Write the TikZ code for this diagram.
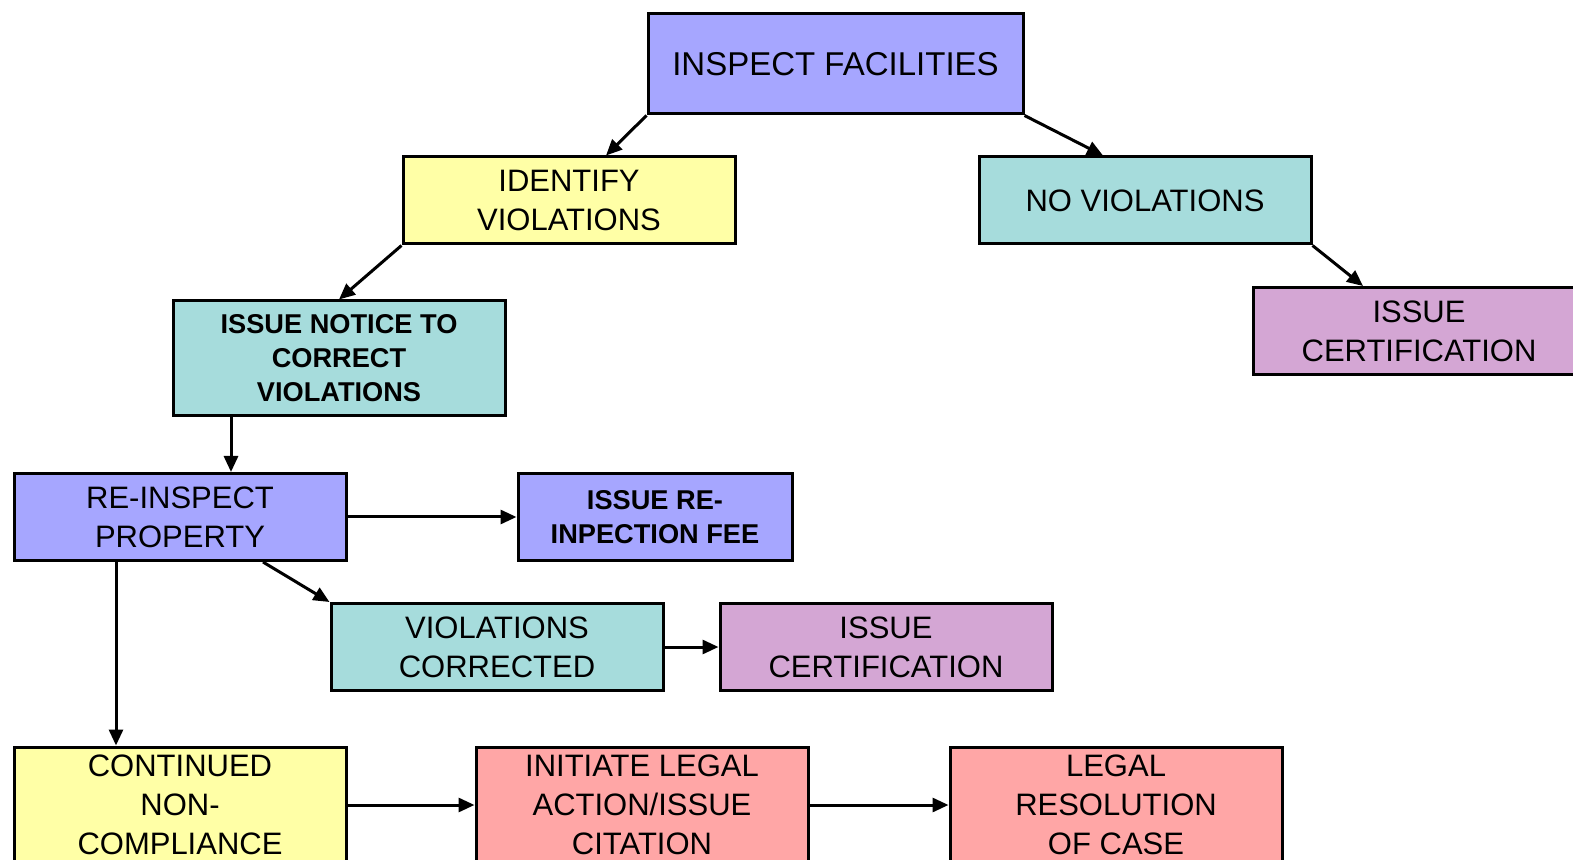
\documentclass[tikz,border=0pt]{standalone}
\usepackage{fontspec}
\setmainfont{Liberation Sans}
\usetikzlibrary{arrows.meta}

\definecolor{lav}{HTML}{A6A6FF}
\definecolor{lemon}{HTML}{FFFFA6}
\definecolor{aqua}{HTML}{A6DCDC}
\definecolor{mauve}{HTML}{D4A6D4}
\definecolor{salmon}{HTML}{FFA6A6}

\tikzset{
  stage/.style={draw, line width=1.5pt, inner sep=0pt, align=center,
    minimum width=166pt, minimum height=43.5pt,
    font=\fontsize{15.5}{19.5}\selectfont},
  tight/.style={font=\bfseries\fontsize{13.6}{17}\selectfont},
  flow/.style={-{Triangle[length=8pt,width=7pt]}, line width=1.5pt},
}

\begin{document}
\begin{tikzpicture}[x=0.5pt,y=-0.5pt]
  \useasboundingbox (0,0) rectangle (1573,860);
  \clip (0,0) rectangle (1573,860);

  % first inspection
  \node[stage, fill=lav, minimum width=187.5pt, minimum height=50pt,
        font=\fontsize{16.5}{20}\selectfont] (insp) at (835.5,64) {INSPECT FACILITIES};
  \node[stage, fill=lemon] (ident) at (569,200.5) {IDENTIFY\\VIOLATIONS};
  \node[stage, fill=aqua] (noviol) at (1145,200.5) {NO VIOLATIONS};
  \node[stage, fill=mauve] (cert1) at (1419,331) {ISSUE\\CERTIFICATION};
  \node[stage, tight, fill=aqua, minimum height=57.5pt] (notice) at (339,358.5)
        {ISSUE NOTICE TO\\CORRECT\\VIOLATIONS};

  % re-inspection
  \node[stage, fill=lav] (reinsp) at (180,517) {RE-INSPECT\\PROPERTY};
  \node[stage, tight, fill=lav, minimum width=137pt] (fee) at (655,517)
        {ISSUE RE-\\INPECTION FEE};
  \node[stage, fill=aqua] (corr) at (497,647) {VIOLATIONS\\CORRECTED};
  \node[stage, fill=mauve] (cert2) at (886,647) {ISSUE\\CERTIFICATION};

  % legal track
  \node[stage, fill=lemon, minimum height=58pt] (cont) at (180,805)
        {CONTINUED\\NON-\\COMPLIANCE};
  \node[stage, fill=salmon, minimum height=58pt] (legal) at (642,805)
        {INITIATE LEGAL\\ACTION/ISSUE\\CITATION};
  \node[stage, fill=salmon, minimum height=58pt] (resol) at (1116,805)
        {LEGAL\\RESOLUTION\\OF CASE};

  \draw[flow] (insp.south west) -- ([xshift=18.5pt]ident.north);
  \draw[flow] (insp.south east) -- ([xshift=-21pt]noviol.north);
  \draw[flow] (ident.south west) -- (notice.north);
  \draw[flow] (noviol.south east) -- ([xshift=-28pt]cert1.north);
  \draw[flow] ([xshift=-54pt]notice.south) -- ([xshift=-54pt]notice.south |- reinsp.north);
  \draw[flow] (reinsp.east) -- (fee.west);
  \draw[flow] ([xshift=41.5pt]reinsp.south) -- (corr.north west);
  \draw[flow] ([xshift=-32pt]reinsp.south) -- ([xshift=-32pt]cont.north);
  \draw[flow] (corr.east) -- (cert2.west);
  \draw[flow] (cont.east) -- (legal.west);
  \draw[flow] (legal.east) -- (resol.west);
\end{tikzpicture}
\end{document}
